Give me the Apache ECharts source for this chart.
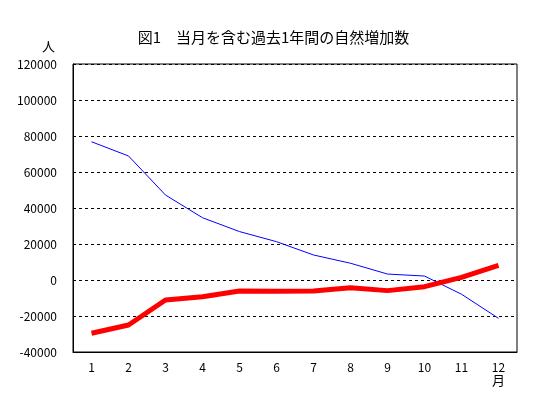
<!DOCTYPE html>
<html>
<head>
<meta charset="utf-8">
<script src="https://cdn.jsdelivr.net/npm/echarts@6/dist/echarts.min.js"></script>
<style>
    html, body { margin: 0; padding: 0; background: #fff; }
    #chart { width: 547px; height: 399px; }
</style>
</head>
<body>
<div id="chart"></div>
<script>
    // 月
    const months = ['1', '2', '3', '4', '5', '6', '7', '8', '9', '10', '11', '12'];
    // 青線 (細)
    const blueValues = [76800, 68900, 47200, 34600, 26900, 21300, 13900, 9300, 3300, 2200, -7900, -21300];
    // 赤線 (太)
    const redValues = [-29600, -25000, -11100, -9300, -6100, -6300, -6100, -4300, -5900, -3700, 1500, 8100];

    const font = '"Noto Sans CJK JP", sans-serif';

    let mChart = echarts.init(document.getElementById('chart'));
    let options = {
        animation: false,
        title: {
            text: '図1　当月を含む過去1年間の自然増加数',
            left: 'center',
            top: 25,
            textStyle: {
                fontFamily: font,
                fontSize: 15,
                fontWeight: 'normal',
                color: '#000'
            }
        },
        graphic: [
            { type: 'text', left: 42, top: 40, style: { text: '人', font: '13px ' + font, fill: '#000' } },
            { type: 'text', left: 492, top: 374, style: { text: '月', font: '13px ' + font, fill: '#000' } }
        ],
        grid: {
            left: 73,
            right: 30,
            top: 64,
            bottom: 47,
            show: true,
            borderColor: '#000',
            borderWidth: 1
        },
        xAxis: {
            type: 'category',
            data: months,
            boundaryGap: true,
            axisLine: { onZero: false, lineStyle: { color: '#000', width: 1 } },
            axisTick: { inside: true, length: 4, lineStyle: { color: '#000' } },
            axisLabel: { color: '#000', fontSize: 12, fontFamily: font, margin: 9 }
        },
        yAxis: {
            type: 'value',
            min: -40000,
            max: 120000,
            interval: 20000,
            axisLine: { show: true, lineStyle: { color: '#000', width: 1 } },
            axisTick: { show: false },
            axisLabel: {
                color: '#000',
                fontSize: 12,
                fontFamily: font,
                margin: 16,
                formatter: function (v) { return String(v); }
            },
            splitLine: { lineStyle: { color: '#000', type: [3, 3], width: 1 } }
        },
        series: [
            {
                type: 'line',
                data: blueValues,
                symbol: 'none',
                lineStyle: { color: '#0000ff', width: 1 }
            },
            {
                type: 'line',
                data: redValues,
                symbol: 'none',
                lineStyle: { color: '#ff0000', width: 5 }
            }
        ]
    };
    mChart.setOption(options);
</script>
</body>
</html>
